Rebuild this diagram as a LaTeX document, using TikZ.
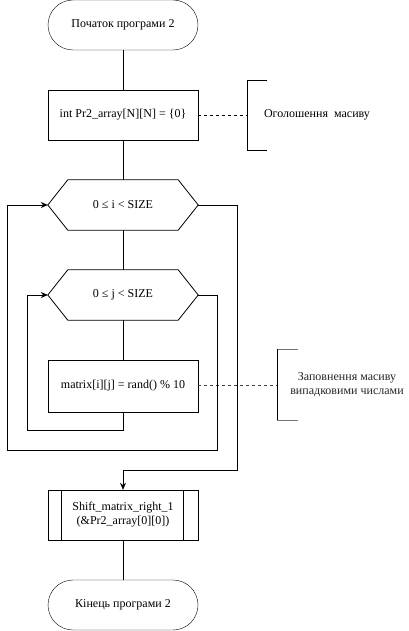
\documentclass[tikz,border=0pt]{standalone}
\usepackage{fontspec}
\setmainfont{Liberation Serif}
\newfontfamily\tnr{Liberation Serif}
\usetikzlibrary{arrows.meta,calc}
\begin{document}
\begin{tikzpicture}[x=1pt,y=-1pt,
  every node/.style={font=\tnr\fontsize{12}{14}\selectfont, align=center, inner sep=0pt},
  box/.style={draw, minimum width=150pt, minimum height=50pt},
  term/.style={box, rounded corners=25pt},
  hexnode/.style={minimum width=150pt, minimum height=50pt},
  line/.style={draw, line width=0.8pt},
  arr/.style={line, -{Stealth[length=7pt,width=6pt]}},
  note/.style={dash pattern=on 3pt off 3pt, line width=0.8pt}
]
\useasboundingbox[fill=white] (0,0) rectangle (408,631);
\node[term] (start) at (123,25) {Початок програми 2};
\node[box] (decl) at (123,115) {int Pr2\_array[N][N] = \{0\}};
\node[hexnode] (hexi) at (123,205) {0 ≤ i < SIZE};
\node[hexnode] (hexj) at (123,295) {0 ≤ j < SIZE};
\node[box, minimum height=52pt] (fill) at (123,386) {matrix[i][j] = rand() \% 10};
\node[box] (sub) at (123,515) {Shift\_matrix\_right\_1\\(\&Pr2\_array[0][0])};
\node[term] (end) at (123,605) {Кінець програми 2};
% hexagons
\foreach \h in {hexi,hexj}{
  \draw[line width=0.8pt] (\h.west) -- ($(\h.north west)+(20,0)$) -- ($(\h.north east)+(-20,0)$) -- (\h.east) -- ($(\h.south east)+(-20,0)$) -- ($(\h.south west)+(20,0)$) -- cycle;
}
% subroutine inner lines
\draw[line width=0.8pt] ($(sub.north west)+(14,0)$) -- ($(sub.south west)+(14,0)$);
\draw[line width=0.8pt] ($(sub.north east)+(-15,0)$) -- ($(sub.south east)+(-15,0)$);
% notes
\node (n1) at (317,115) {Оголошення~~масиву};
\coordinate (b1) at (247,115);
\draw[line width=0.8pt] (267,80) -- (247,80) -- (247,150) -- (267,150);
\draw[note] (decl.east) -- (b1);
\node[text=black!85] (n2) at (347,385) {Заповнення масиву\\випадковими числами};
\coordinate (b2) at (277,385);
\draw[line width=0.8pt, black!55] (298,349) -- (277,349) (277,420) -- (298,420);
\draw[line width=0.8pt] (277,349) -- (277,420);
\draw[note, black!75] ($(fill.east)+(0,-1)$) -- (b2);
% main flow
\draw[line] (start) -- (decl);
\draw[line] (decl) -- (hexi);
\draw[line] (hexi.south) -- (hexj.north);
\draw[line] (hexj.south) -- (fill.north);
\draw[line] (sub) -- (end);
% loops
\coordinate (c1) at (217,450);
\coordinate (c2) at (7,450);
\coordinate (c3) at (27,430);
\coordinate (c4) at (237,470);
\draw[arr] (hexj.east) -| (c1) -- (c2) |- (hexi.west);
\draw[arr] (fill.south) |- (c3) |- (hexj.west);
\draw[arr] (hexi.east) -| (c4) -| (sub.north);
\end{tikzpicture}
\end{document}
